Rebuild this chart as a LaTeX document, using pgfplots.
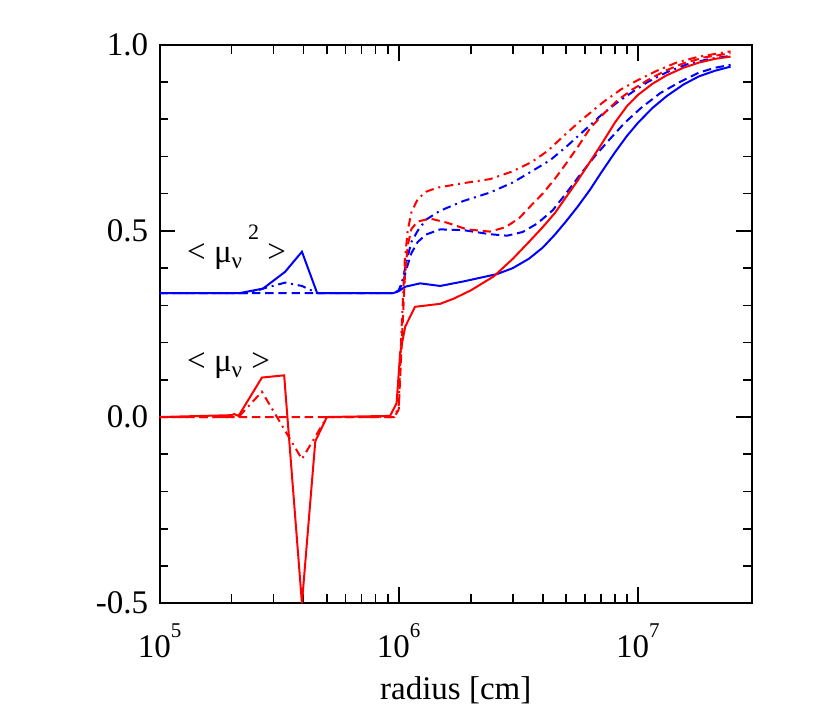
\documentclass[border=0pt]{standalone}
\usepackage{fontspec}
\setmainfont{Liberation Serif}
\usepackage{pgfplots}
\pgfplotsset{compat=1.18}
\newcommand{\ex}[1]{10\raisebox{0.62em}{\fontsize{10.5}{10.5}\selectfont #1}}
\begin{document}
\fontsize{16.5}{19}\selectfont
\begin{tikzpicture}
\begin{axis}[
    name=ax,
    xmode=log,
    scale only axis,
    width=296.25pt, height=279.25pt,
    xmin=1e5, xmax=3e7,
    ymin=-0.5, ymax=1.0,
    xtick={1e5,1e6,1e7},
    xticklabels={\ex{5},\ex{6},\ex{7}},
    ytick={-0.5,0,0.5,1},
    yticklabels={-0.5,0.0,0.5,1.0},
    minor y tick num=4,
    tick align=inside,
    major tick length=8pt,
    minor tick length=4.5pt,
    every tick/.style={black, line width=0.8pt},
    axis line style={line width=1pt},
    tick label style={font=\fontsize{16.5}{19}\selectfont},
    xticklabel style={yshift=-4.5pt},
    xlabel={radius [cm]},
    xlabel style={font=\fontsize{16.5}{19}\selectfont, at={(axis description cs:0.5,0)}, anchor=center, yshift=-43.5pt},
    every axis plot/.append style={line width=1pt, mark=none},
    dsh/.style={dash pattern=on 4.2pt off 2.4pt},
    dshdot/.style={dash pattern=on 4.2pt off 2.4pt on 1pt off 2.4pt},
]
% <mu^2>, solid
\addplot[blue] coordinates {(1e5,0.333) (2.17e5,0.333) (2.71e5,0.345) (3.35e5,0.39) (3.94e5,0.444) (4.56e5,0.333) (9.5e5,0.333) (1.0e6,0.338) (1.065e6,0.35) (1.23e6,0.359) (1.49e6,0.352) (1.86e6,0.364) (2.58e6,0.384) (3.0e6,0.40) (3.5e6,0.425) (4.0e6,0.455) (4.5e6,0.49) (5.0e6,0.525) (5.6e6,0.565) (6.3e6,0.61) (7.0e6,0.655) (8.0e6,0.71) (9.0e6,0.755) (1.0e7,0.79) (1.15e7,0.83) (1.32e7,0.862) (1.55e7,0.893) (1.8e7,0.915) (2.1e7,0.93) (2.44e7,0.941)};
% <mu^2>, dashed
\addplot[blue, dsh] coordinates {(1e5,0.333) (9.6e5,0.333) (1.0e6,0.34) (1.04e6,0.36) (1.08e6,0.40) (1.13e6,0.44) (1.2e6,0.47) (1.3e6,0.49) (1.49e6,0.504) (1.86e6,0.502) (2.41e6,0.491) (2.84e6,0.487) (3.3e6,0.497) (3.8e6,0.52) (4.4e6,0.555) (5.0e6,0.6) (5.8e6,0.655) (6.6e6,0.7) (7.6e6,0.745) (8.8e6,0.79) (1.03e7,0.83) (1.24e7,0.87) (1.5e7,0.9) (1.8e7,0.925) (2.1e7,0.938) (2.44e7,0.946)};
% <mu^2>, dash-dot
\addplot[blue, dshdot] coordinates {(1e5,0.333) (2.4e5,0.333) (2.71e5,0.345) (3.35e5,0.361) (3.94e5,0.352) (4.56e5,0.333) (9.6e5,0.333) (1.0e6,0.34) (1.04e6,0.37) (1.08e6,0.42) (1.13e6,0.47) (1.2e6,0.50) (1.3e6,0.53) (1.49e6,0.554) (1.86e6,0.58) (2.41e6,0.603) (3.0e6,0.63) (3.6e6,0.66) (4.3e6,0.69) (5.0e6,0.725) (6.0e6,0.771) (7.0e6,0.81) (8.2e6,0.845) (9.5e6,0.873) (1.1e7,0.9) (1.32e7,0.926) (1.6e7,0.947) (2.0e7,0.962) (2.44e7,0.97)};
% <mu>, solid
\addplot[red] coordinates {(1e5,0) (2.0e5,0.005) (2.05e5,0.008) (2.14e5,0.003) (2.68e5,0.106) (3.32e5,0.112) (3.94e5,-0.5) (4.48e5,-0.065) (5.01e5,0) (9.2e5,0.003) (9.8e5,0.037) (1.014e6,0.172) (1.065e6,0.243) (1.17e6,0.296) (1.49e6,0.304) (1.7e6,0.318) (2.0e6,0.34) (2.5e6,0.378) (3.0e6,0.425) (3.5e6,0.47) (4.0e6,0.51) (4.5e6,0.548) (5.0e6,0.59) (5.6e6,0.635) (6.3e6,0.685) (7.0e6,0.73) (8.0e6,0.79) (9.0e6,0.835) (1.0e7,0.865) (1.15e7,0.895) (1.32e7,0.918) (1.55e7,0.938) (1.8e7,0.952) (2.1e7,0.962) (2.44e7,0.968)};
% <mu>, dashed
\addplot[red, dsh] coordinates {(1e5,0) (9.6e5,0) (1.0e6,0.02) (1.03e6,0.2) (1.06e6,0.37) (1.09e6,0.46) (1.13e6,0.505) (1.2e6,0.525) (1.355e6,0.533) (1.59e6,0.522) (1.93e6,0.504) (2.41e6,0.498) (2.8e6,0.51) (3.2e6,0.535) (3.6e6,0.57) (4.0e6,0.6) (4.5e6,0.64) (5.0e6,0.68) (5.6e6,0.725) (6.3e6,0.775) (7.2e6,0.815) (8.2e6,0.85) (9.5e6,0.88) (1.1e7,0.905) (1.3e7,0.93) (1.55e7,0.95) (1.9e7,0.966) (2.44e7,0.977)};
% <mu>, dash-dot
\addplot[red, dshdot] coordinates {(1e5,0) (2.14e5,0) (2.68e5,0.068) (3.94e5,-0.113) (5.01e5,0) (9.6e5,0) (1.0e6,0.03) (1.03e6,0.25) (1.06e6,0.42) (1.09e6,0.5) (1.13e6,0.55) (1.2e6,0.585) (1.3e6,0.605) (1.45e6,0.616) (1.86e6,0.628) (2.41e6,0.639) (3.0e6,0.66) (3.6e6,0.685) (4.2e6,0.715) (4.8e6,0.75) (5.6e6,0.789) (6.4e6,0.82) (7.2e6,0.847) (8.5e6,0.88) (1.0e7,0.905) (1.2e7,0.93) (1.45e7,0.952) (1.8e7,0.968) (2.44e7,0.982)};
\node[anchor=base west, inner sep=0pt, font=\fontsize{16.5}{19}\selectfont] at (axis cs:1.3e5,0.414) {< μ\textsubscript{ν}\hspace{2.5pt}\raisebox{0.7em}{\fontsize{11}{11}\selectfont 2} >};
\node[anchor=base west, inner sep=0pt, font=\fontsize{16.5}{19}\selectfont] at (axis cs:1.3e5,0.121) {< μ\textsubscript{ν} >};
\end{axis}
\path (ax.south west) ++(-79.75pt,-56.4pt) rectangle ([xshift=39pt,yshift=22.35pt]ax.north east);
\end{tikzpicture}
\end{document}
